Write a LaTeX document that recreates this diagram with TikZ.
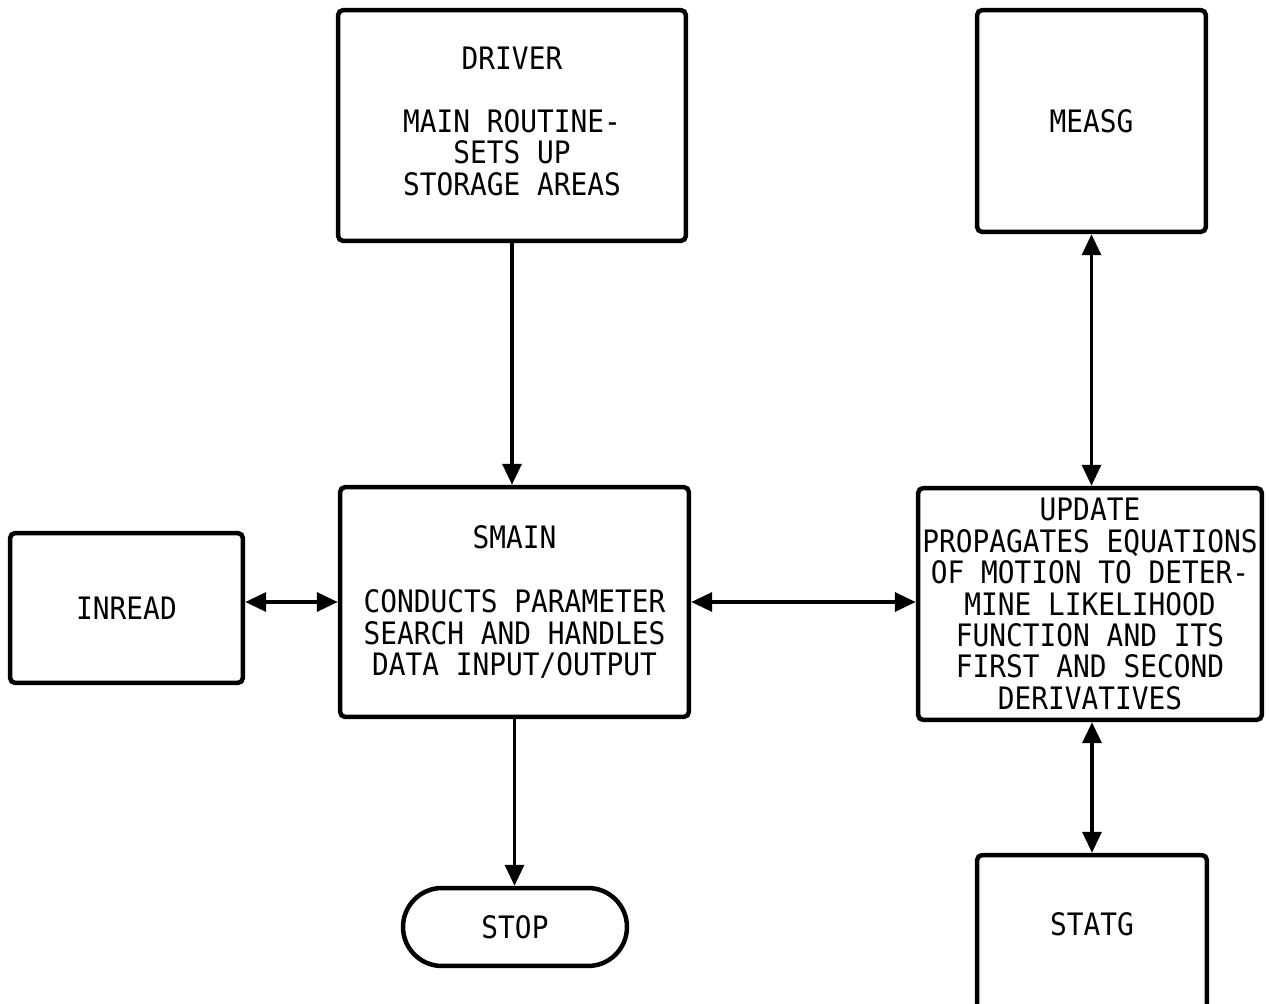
\documentclass[tikz,border=0pt]{standalone}
\usepackage{fontspec}
\setmonofont[FakeStretch=0.9]{DejaVu Sans Mono}
\usetikzlibrary{arrows.meta,shapes.misc}

\begin{document}
\begin{tikzpicture}[x=0.02cm,y=-0.02cm,>={Triangle[length=0.42cm,width=0.38cm]},
	box/.style ={rectangle, draw, line width=0.09cm, rounded corners=3pt, align=center, inner sep=0pt, font=\ttfamily\fontsize{17.6}{17.9}\selectfont},
	term/.style ={rounded rectangle, draw, line width=0.09cm, align=center, inner sep=0pt, font=\ttfamily\fontsize{17.6}{17.9}\selectfont},
	link/.style ={line width=0.07cm}]
		\clip (0,0) rectangle (1269,1004);
		\node[box, minimum width=6.96cm, minimum height=4.62cm, text depth=0.18cm] (driver) at (512,125.5) {DRIVER\\[0.63cm]MAIN ROUTINE-\\SETS UP\\STORAGE AREAS};
		\node[box, minimum width=4.58cm, minimum height=4.44cm] (measg) at (1091.5,121) {MEASG};
		\node[box, minimum width=6.98cm, minimum height=4.6cm] (smain) at (514.5,602) {SMAIN\\[0.66cm]CONDUCTS PARAMETER\\SEARCH AND HANDLES\\DATA INPUT/OUTPUT};
		\node[box, minimum width=4.66cm, minimum height=3cm] (inread) at (126.5,608) {INREAD};
		\node[box, minimum width=6.88cm, minimum height=4.64cm] (update) at (1090,604) {UPDATE\\PROPAGATES EQUATIONS\\OF MOTION TO DETER-\\MINE LIKELIHOOD\\FUNCTION AND ITS\\FIRST AND SECOND\\DERIVATIVES};
		\node[term, minimum width=4.48cm, minimum height=1.56cm] (stop) at (515,927) {STOP};
		\node[box, minimum width=4.6cm, minimum height=3.1cm, text depth=0.34cm] (statg) at (1092,932.5) {STATG};
		\draw[link,->] (driver.south) -- (driver.south |- smain.north);
		\draw[link,->] (smain.south) -- (smain.south |- stop.north);
		\draw[link,<->] (smain.west -| inread.east) -- (smain.west);
		\draw[link,<->] (smain.east) -- (smain.east -| update.west);
		\draw[link,<->] (measg.south) -- (measg.south |- update.north);
		\draw[link,<->] (update.south -| statg.north) -- (statg.north);
	\end{tikzpicture}
\end{document}
